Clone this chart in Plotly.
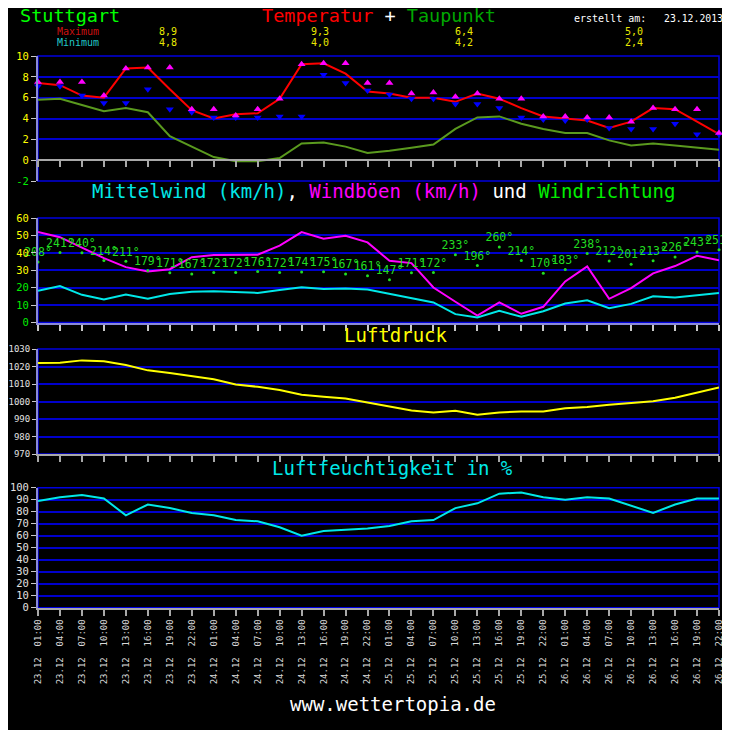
import plotly.graph_objects as go

# ---------------- data ----------------
dates = ["23.12"] * 8 + ["24.12"] * 8 + ["25.12"] * 8 + ["26.12"] * 8
times = ["01:00", "04:00", "07:00", "10:00", "13:00", "16:00", "19:00", "22:00"] * 4

temperature = [7.4, 7.2, 6.2, 6.0, 8.8, 8.9, 6.8, 4.8, 4.0, 4.4, 4.5, 5.9, 9.2, 9.3, 8.3, 6.6,
               6.4, 6.0, 6.0, 5.6, 6.4, 5.9, 5.0, 4.2, 4.0, 3.8, 3.1, 3.7, 5.0, 4.9, 3.7, 2.5]
dew_point = [5.8, 5.9, 5.3, 4.7, 5.0, 4.6, 2.3, 1.3, 0.3, -0.1, -0.1, 0.2, 1.6, 1.7, 1.3, 0.7,
             0.9, 1.2, 1.5, 3.0, 4.1, 4.2, 3.5, 3.0, 2.6, 2.6, 1.9, 1.4, 1.6, 1.4, 1.2, 1.0]
temp_max = [7.5, 7.5, 7.5, 6.2, 8.8, 8.9, 8.9, 4.9, 4.9, 4.3, 4.9, 5.9, 9.2, 9.3, 9.3, 7.4,
            7.4, 6.4, 6.5, 6.1, 6.4, 5.9, 5.9, 4.2, 4.2, 4.1, 4.1, 3.7, 5.0, 4.9, 4.9, 2.6]
temp_min = [7.1, 7.1, 6.2, 5.5, 5.5, 6.8, 4.9, 4.6, 4.1, 4.1, 4.1, 4.2, 4.2, 8.2, 7.4, 6.7,
            6.3, 5.9, 5.9, 5.4, 5.4, 5.0, 4.1, 3.9, 3.8, 3.9, 3.1, 3.0, 3.0, 3.5, 2.5, 2.5]

day_max = ["8,9", "9,3", "6,4", "5,0"]
day_min = ["4,8", "4,0", "4,2", "2,4"]

wind_mean = [18.2, 20.9, 15.9, 13.2, 16.1, 13.6, 16.3, 17.6, 18.0, 17.4, 17.0, 18.6, 20.3, 19.2, 19.5, 19.0,
             16.5, 14.0, 11.5, 4.8, 2.9, 6.7, 3.3, 6.5, 10.9, 12.8, 8.2, 10.7, 15.1, 14.4, 15.7, 16.9]
wind_gust = [52, 49, 43, 37, 31.8, 29.3, 30.6, 37.5, 38.7, 38.9, 38.9, 44.1, 51.9, 48.1, 49.8, 46,
             35.4, 34.1, 20.1, 11.9, 4.0, 11.5, 5.0, 9.0, 23.6, 32.2, 13.6, 19.7, 28.2, 32.4, 38.3, 35.8]
wind_dir = [208, 241, 240, 214, 211, 179, 171, 167, 172, 172, 176, 172, 174, 175, 167, 161,
            147, 171, 172, 233, 196, 260, 214, 170, 183, 238, 212, 201, 213, 226, 243, 251]

pressure = [1022.0, 1022.2, 1023.5, 1023.0, 1020.9, 1017.8, 1016.3, 1014.6, 1012.7, 1009.7, 1008.4,
            1006.6, 1003.8, 1002.7, 1001.7, 999.4, 997.2, 994.9, 993.7, 994.7, 992.4, 993.7, 994.3,
            994.3, 996.2, 996.8, 998.1, 999.2, 1000.2, 1002.1, 1004.9, 1008.0]
humidity = [89, 92, 94, 91, 77, 86, 83, 79, 77, 73, 72, 67, 60, 64, 65, 66,
            68, 72, 73, 83, 87, 95, 96, 92, 90, 92, 91, 85, 79, 86, 91, 91]

temp_ticks = [-2, 0, 2, 4, 6, 8, 10]
wind_ticks = [0, 10, 20, 30, 40, 50, 60]
press_ticks = [970, 980, 990, 1000, 1010, 1020, 1030]
hum_ticks = list(range(0, 101, 10))

# ---------------- styling ----------------
W = H = 730
OFF = 8          # the page places the figure 8 px right/down (default body margin)
MONO = "DejaVu Sans Mono"
GRID = "#0000cc"
BORDER = "#0000e0"
LAV = "#8a8ad8"
GRAY = "#a8a8a8"

x = list(range(len(times)))
xtick_text = [f"{d}  {t}" for d, t in zip(dates, times)]


def pxx(p):
    return (p - OFF) / W


def py(p):
    return 1 - (p - OFF) / H


xdom = [pxx(38), pxx(719)]
d1 = [py(181), py(56)]
d2 = [py(322.5), py(218)]
d3 = [py(454), py(349)]
d4 = [py(607.7), py(487.7)]

fig = go.Figure()

# Panel 1: temperature
fig.add_trace(go.Scatter(x=x, y=dew_point, mode="lines", line=dict(color="#5a9a1e", width=2),
                         xaxis="x", yaxis="y"))
fig.add_trace(go.Scatter(x=x, y=temperature, mode="lines", line=dict(color="#ff0000", width=2),
                         xaxis="x", yaxis="y"))
fig.add_trace(go.Scatter(x=x, y=temp_min, mode="markers", cliponaxis=False,
                         marker=dict(symbol="triangle-down", size=7, color="#0000ff"),
                         xaxis="x", yaxis="y"))
fig.add_trace(go.Scatter(x=x, y=temp_max, mode="markers", cliponaxis=False,
                         marker=dict(symbol="triangle-up", size=7, color="#ff00ff"),
                         xaxis="x", yaxis="y"))

# Panel 2: wind
fig.add_trace(go.Scatter(x=x, y=wind_gust, mode="lines", line=dict(color="#ff00ff", width=2),
                         xaxis="x2", yaxis="y2"))
fig.add_trace(go.Scatter(x=x, y=wind_mean, mode="lines", line=dict(color="#00e8e8", width=2),
                         xaxis="x2", yaxis="y2"))
fig.add_trace(go.Scatter(x=x, y=wind_dir, mode="markers+text", cliponaxis=False,
                         text=[f"{d}°" for d in wind_dir], textposition="top center",
                         textfont=dict(family=MONO, size=11.5, color="#22dd22"),
                         marker=dict(size=3, color="#22dd22"),
                         xaxis="x2", yaxis="y5"))

# Panel 3: pressure
fig.add_trace(go.Scatter(x=x, y=pressure, mode="lines", line=dict(color="#ffff00", width=2),
                         xaxis="x3", yaxis="y3"))

# Panel 4: humidity
fig.add_trace(go.Scatter(x=x, y=humidity, mode="lines", line=dict(color="#00e8e8", width=2),
                         xaxis="x4", yaxis="y4"))


def yax(dom, rng, ticks, text, color, size=10.5, tlen=5):
    return dict(domain=dom, range=rng, tickmode="array", tickvals=ticks, ticktext=text,
                showgrid=True, gridcolor=GRID, gridwidth=1.5, zeroline=False,
                showline=True, linecolor=LAV, linewidth=2, automargin=False,
                ticks="outside", ticklen=tlen, tickcolor="#c8c8c8", tickwidth=1,
                tickfont=dict(family=MONO, size=size, color=color), fixedrange=True)


def col(v, c):
    return f'<span style="color:{c}">{v}</span>'


xbase = dict(domain=xdom, range=[0, 31], tickmode="linear", tick0=0, dtick=1,
             showgrid=False, zeroline=False, showline=True, linewidth=2, automargin=False,
             ticks="outside", ticklen=6, tickwidth=1.5, fixedrange=True)

fig.update_layout(
    template="none",
    width=W, height=H, margin=dict(l=0, r=0, t=0, b=0, pad=0), autosize=False,
    paper_bgcolor="#000000", plot_bgcolor="#000000", showlegend=False,
    xaxis=dict(xbase, anchor="free", position=d1[0] + (d1[1] - d1[0]) * 2 / 12,
               linecolor=GRAY, tickcolor=GRAY, showticklabels=False),
    xaxis2=dict(xbase, anchor="y2", matches="x", linecolor=LAV, tickcolor="#c8c8c8",
                showticklabels=False),
    xaxis3=dict(xbase, anchor="y3", matches="x", linecolor=GRAY, tickcolor=GRAY,
                showticklabels=False),
    xaxis4=dict(xbase, anchor="y4", matches="x", linecolor=GRAY, tickcolor=GRAY,
                showticklabels=True, tickmode="array", tickvals=x, ticktext=xtick_text,
                tickangle=-90, tickfont=dict(family=MONO, size=9, color="#d8d8d8")),
    yaxis=yax(d1, [-2, 10], temp_ticks,
              [col(v, "#00ee00" if v < 0 else "#ffff00") for v in temp_ticks], "#ffff00"),
    yaxis2=yax(d2, [0, 60], wind_ticks,
               [col(v, "#ffff00" if v >= 30 else "#00ee00") for v in wind_ticks], "#ffff00"),
    yaxis3=yax(d3, [970, 1030], press_ticks, [str(v) for v in press_ticks], "#e0e0e0",
               size=9, tlen=4),
    yaxis4=yax(d4, [0, 100], hum_ticks, [str(v) for v in hum_ticks], "#e0e0e0"),
    yaxis5=dict(domain=d2, range=[0, 360], overlaying="y2", anchor="x2", visible=False,
                fixedrange=True, automargin=False),
)

# panel borders (blue)
shapes = []
for xr, yr in [("x", "y"), ("x2", "y2"), ("x3", "y3"), ("x4", "y4")]:
    shapes.append(dict(type="rect", xref=f"{xr} domain", yref=f"{yr} domain",
                       x0=0, x1=1, y0=0, y1=1, line=dict(color=BORDER, width=1.5),
                       layer="below"))
fig.update_layout(shapes=shapes)


def ann(text, px, pyy, size, color="#ffffff", xanchor="left", yanchor="middle"):
    fig.add_annotation(text=text, x=pxx(px), y=py(pyy), xref="paper", yref="paper",
                       xanchor=xanchor, yanchor=yanchor, showarrow=False,
                       font=dict(family=MONO, size=size, color=color))


ann("Stuttgart", 18, 16, 18.5, "#00ff00")
ann(col("Temperatur", "#ff0000") + col(" + ", "#ffffff") + col("Taupunkt", "#00a800"),
    260, 16, 18.5)
ann("erstellt am:", 572, 19, 10, "#ffffff")
ann("23.12.2013", 662, 19, 9.8, "#ffffff")
ann("Maximum", 55, 31, 10, "#cc1010")
ann("Minimum", 55, 43, 10, "#20c8c8")
for cx, vmax, vmin in zip([168, 320, 464, 634], day_max, day_min):
    ann(vmax, cx, 31, 10, "#e8e800", "center")
    ann(vmin, cx, 43, 10, "#e8e800", "center")

ann(col("Mittelwind (km/h)", "#00e8e8") + col(", ", "#ffffff") + col("Windböen (km/h)", "#ff00ff")
    + col(" und ", "#ffffff") + col("Windrichtung", "#00ee00"), 90, 191, 19)
ann("Luftdruck", 342, 335, 19, "#ffff00")
ann("Luftfeuchtigkeit in %", 270, 468, 19, "#00e8e8")
ann("www.wettertopia.de", 288, 704, 19, "#ffffff")

fig.write_html("out.html")
